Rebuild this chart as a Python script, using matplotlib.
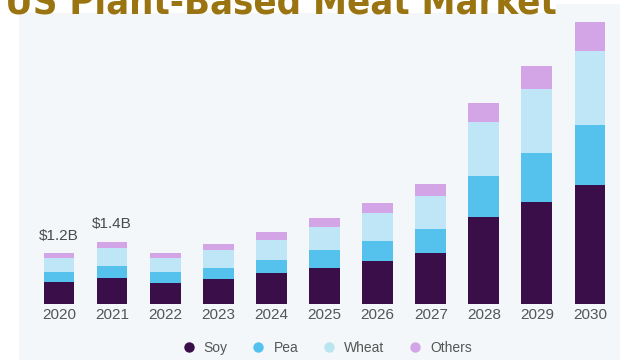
import matplotlib

matplotlib.use("Agg")
import matplotlib.pyplot as plt
from matplotlib.lines import Line2D
from matplotlib.patches import Rectangle
import numpy as np

# values in $B
years = ["2020", "2021", "2022", "2023", "2024", "2025", "2026", "2027", "2028", "2029", "2030"]
soy = [0.51, 0.60, 0.49, 0.58, 0.72, 0.83, 0.99, 1.18, 2.01, 2.36, 2.75]
pea = [0.23, 0.28, 0.25, 0.25, 0.30, 0.42, 0.46, 0.55, 0.95, 1.13, 1.39]
wheat = [0.32, 0.42, 0.32, 0.42, 0.46, 0.53, 0.65, 0.76, 1.25, 1.48, 1.71]
others = [0.12, 0.14, 0.12, 0.14, 0.18, 0.21, 0.23, 0.28, 0.44, 0.53, 0.67]
labels = {0: "$1.2B", 1: "$1.4B"}

series = ["Soy", "Pea", "Wheat", "Others"]
colors = ["#3a0e48", "#55c2ee", "#bfe6f6", "#d4a5e6"]
legend_colors = ["#3a0e48", "#55c2ee", "#b9e5ee", "#d4a5e6"]
panel = "#f3f7fa"

plt.rcParams["font.family"] = ["Liberation Sans", "DejaVu Sans"]

W, H = 623, 360
fig = plt.figure(figsize=(W / 100, H / 100), dpi=100)
fig.patch.set_facecolor("white")
# light panel behind the chart, white strip behind the title
fig.patches.append(Rectangle((19 / W, 0), 601 / W, 356 / H, transform=fig.transFigure,
                             facecolor=panel, edgecolor="none", zorder=-2))
fig.patches.append(Rectangle((0, 1 - 13 / H), 556 / W, 13 / H, transform=fig.transFigure,
                             facecolor="white", edgecolor="none", zorder=-1))

ax = fig.add_axes([19 / W, 56 / H, 601 / W, 300 / H])
ax.patch.set_alpha(0)
x = np.arange(len(years))
bottom = np.zeros(len(years))
for vals, c in zip([soy, pea, wheat, others], colors):
    ax.bar(x, vals, 0.58, bottom=bottom, color=c, edgecolor="none")
    bottom += np.array(vals)

for i, t in labels.items():
    ax.text(x[i], bottom[i] + 0.24, t, ha="center", va="bottom", fontsize=11, color="#4a4a4a")

ax.set_xlim(-0.753, 10.565)
ax.set_ylim(0, 6.93)
ax.set_xticks(x)
ax.set_xticklabels(years, fontsize=11, color="#555555")
ax.tick_params(axis="x", length=0, pad=3)
ax.set_yticks([])
for s in ax.spines.values():
    s.set_visible(False)

handles = [Line2D([], [], marker="o", linestyle="none", markersize=7.5,
                  markerfacecolor=c, markeredgecolor="none") for c in legend_colors]
fig.legend(handles, series, loc="center", bbox_to_anchor=(0.519, 0.033), ncol=4,
           frameon=False, fontsize=10, handletextpad=0.1, columnspacing=1.2,
           labelcolor="#555555")

title = fig.text(5 / W, 1 - 14 / H, "US Plant-Based Meat Market", fontsize=30,
                 fontweight="bold", color="#9a7410", ha="left", va="baseline",
                 family="DejaVu Sans", fontstretch="condensed")
# fit the title to the same width as in the reference (~550 px)
r = fig.canvas.get_renderer()
w = title.get_window_extent(r).width
title.set_fontsize(30 * 550 / w)

fig.savefig("out.png", dpi=100)
